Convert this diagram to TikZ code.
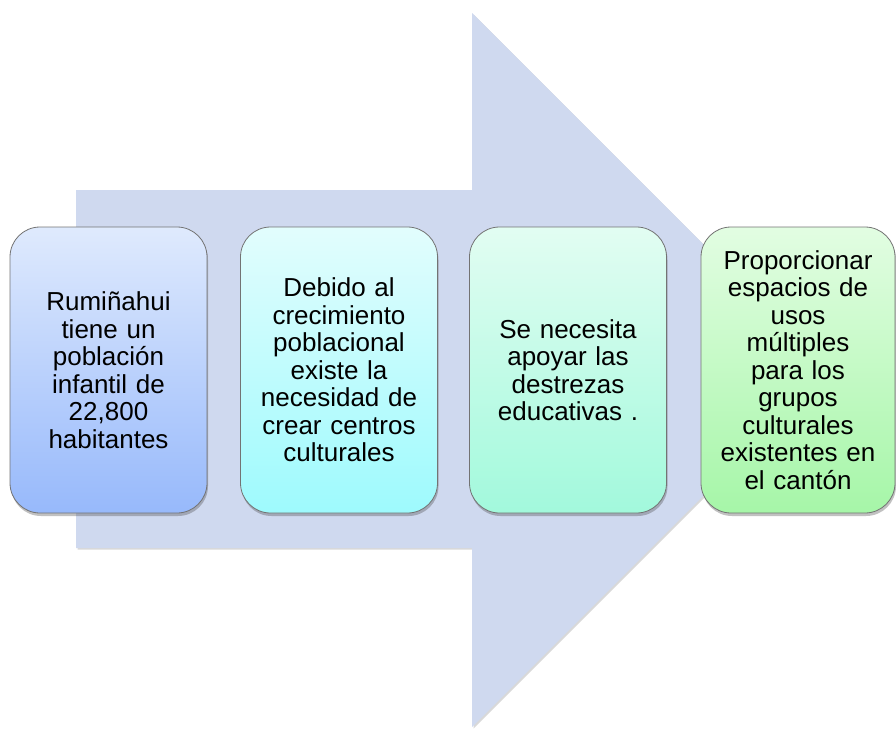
\documentclass[tikz,border=0pt]{standalone}
\usepackage{fontspec}
\setmainfont{Liberation Sans}
\usetikzlibrary{shadows}
\definecolor{arrowfill}{HTML}{CFD9EF}
\definecolor{aTop}{HTML}{DFEAFD}\definecolor{aBot}{HTML}{97B9FB}
\definecolor{bTop}{HTML}{E2FDFD}\definecolor{bBot}{HTML}{9EFAFD}
\definecolor{cTop}{HTML}{E2FDF2}\definecolor{cBot}{HTML}{A2F9DC}
\definecolor{dTop}{HTML}{E2FDE2}\definecolor{dBot}{HTML}{A6F6A8}
\tikzset{
  stepbox/.style={draw=black!55, line width=0.8pt, rounded corners=30pt,
    minimum height=286pt, inner sep=0pt, align=center,
    font=\fontsize{26pt}{27.5pt}\selectfont,
    drop shadow={shadow xshift=1pt, shadow yshift=-3pt, opacity=0.35, fill=black!70}},
  bigarrow/.style={fill=arrowfill, draw=none,
    drop shadow={shadow xshift=1.5pt, shadow yshift=-1.5pt, opacity=0.25, fill=black!60}}
}
\begin{document}
\begin{tikzpicture}[x=1pt,y=-1pt]
\useasboundingbox (0,0) rectangle (896,728);
\path[bigarrow] (76,190) -- (472,190) -- (472,13) -- (829,370) -- (472,727) -- (472,548) -- (76,548) -- cycle;
\node[stepbox, minimum width=197pt, text width=190pt, top color=aTop, bottom color=aBot] (b1) at (108.5,370)
  {Rumiñahui\\tiene un\\población\\infantil de\\22,800\\habitantes};
\node[stepbox, minimum width=197pt, text width=190pt, top color=bTop, bottom color=bBot] (b2) at (339,370)
  {Debido al\\crecimiento\\poblacional\\existe la\\necesidad de\\crear centros\\culturales};
\node[stepbox, minimum width=197pt, text width=190pt, top color=cTop, bottom color=cBot] (b3) at (568,370)
  {Se necesita\\apoyar las\\destrezas\\educativas .};
\node[stepbox, minimum width=194pt, text width=190pt, top color=dTop, bottom color=dBot] (b4) at (798,370)
  {Proporcionar\\espacios de\\usos\\múltiples\\para los\\grupos\\culturales\\existentes en\\el cantón};
\end{tikzpicture}
\end{document}
